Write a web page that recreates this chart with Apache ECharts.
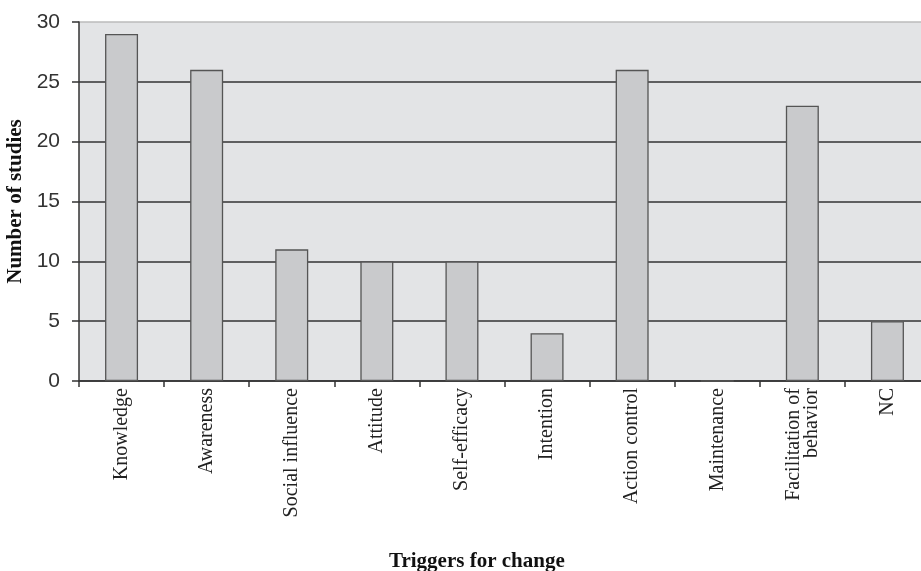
<!DOCTYPE html>
<html><head><meta charset="utf-8">
<script src="https://cdn.jsdelivr.net/npm/echarts@6/dist/echarts.min.js"></script>
<style>html,body{margin:0;padding:0;background:#fff}#c{width:921px;height:571px}</style>
</head><body><div id="c"></div>
<script>
const categories = ["Knowledge","Awareness","Social influence","Attitude","Self-efficacy","Intention","Action control","Maintenance","Facilitation of\nbehavior","NC"];
const values = [29,26,11,10,10,4,26,0,23,5];
const yTicks = {min:0,max:30,interval:5};

const chart = echarts.init(document.getElementById('c'));
chart.setOption({
  animation:false,
  backgroundColor:'#ffffff',
  title:{text:'Triggers for change',left:384,top:546,
    textStyle:{fontFamily:'Liberation Serif',fontWeight:'bold',fontSize:21,color:'#111'}},
  grid:{left:79,top:22,width:851,height:359,outerBoundsMode:'none',containLabel:false,show:true,backgroundColor:'#e3e4e6',borderWidth:0},
  xAxis:{type:'category',data:categories,boundaryGap:true,
    axisLine:{lineStyle:{color:'#333',width:1.5}},
    axisTick:{show:true,length:6,lineStyle:{color:'#333',width:1.5}},
    axisLabel:{rotate:90,margin:7,interval:0,fontFamily:'Liberation Serif',fontSize:20,color:'#222',lineHeight:18}},
  yAxis:{type:'value',min:yTicks.min,max:yTicks.max,interval:yTicks.interval,
    name:'Number of studies',nameLocation:'middle',nameGap:46,nameRotate:90,
    nameTextStyle:{fontFamily:'Liberation Serif',fontWeight:'bold',fontSize:21,color:'#111'},
    axisLine:{show:true,lineStyle:{color:'#333',width:1.5}},
    axisTick:{show:true,length:7,lineStyle:{color:'#333',width:1.5}},
    axisLabel:{margin:19,fontFamily:'Liberation Sans',fontSize:21,color:'#333'},
    splitLine:{show:true,lineStyle:{color:['#333','#333','#333','#333','#333','#333','#bbb'],width:1.5}}},
  series:[{type:'bar',data:values,barWidth:33,
    itemStyle:{color:'#c9cacc',borderColor:'#555',borderWidth:1.3}}]
});
</script></body></html>
